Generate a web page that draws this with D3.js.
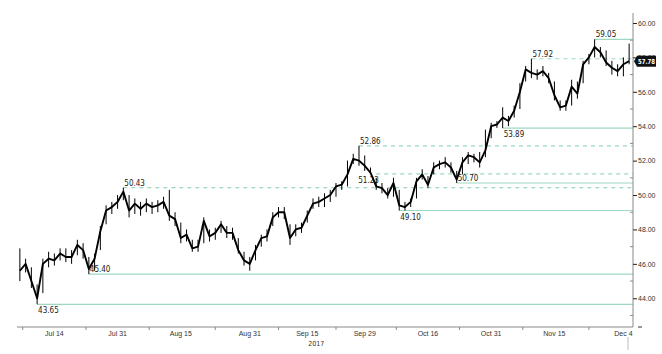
<!DOCTYPE html>
<html>
<head>
<meta charset="utf-8">
<style>
  body { margin: 0; background: #fff; }
  svg { display: block; font-family: "DejaVu Sans Condensed", "Liberation Sans Narrow", "Liberation Sans", sans-serif; }
  .price { fill: none; stroke: #000; stroke-width: 1.9; stroke-linejoin: round; }
  .range { stroke: #000; stroke-width: 1; }
  .level { stroke: #9ed8c1; stroke-width: 1.2; }
  .level.dash { stroke-dasharray: 4,4; }
  .lvl-text { font-size: 8px; fill: #222; }
  .frame { stroke: #8a8a8a; stroke-width: 1; }
</style>
</head>
<body>
<svg id="chart" width="662" height="354"></svg>
<script src="https://cdn.jsdelivr.net/npm/d3@7"></script>
<script>
// trading days Jul 6 - Dec 5 2017 (US holidays skipped)
const startDay = "2017-07-06"
const endDay = "2017-12-06"
const holidays = ["2017-09-04", "2017-11-23"]

// daily close / high / low
const closes = [45.6,46.0,45.0,44.0,46.0,46.3,46.2,46.6,46.4,46.4,47.1,46.8,45.7,46.3,47.9,49.1,49.3,49.6,50.2,49.1,
  49.5,49.2,49.5,49.3,49.4,49.6,48.8,48.6,47.5,47.7,46.9,47.0,48.5,47.6,47.8,48.3,47.8,47.8,46.8,46.2,
  46.0,46.8,47.5,47.6,48.7,49.0,49.0,47.5,48.0,48.1,48.8,49.5,49.6,49.8,50.0,50.5,50.6,51.2,52.1,52.0,
  51.7,51.3,50.5,50.4,50.0,50.7,49.4,49.3,49.6,50.8,51.2,50.6,51.6,51.8,51.9,51.6,50.9,51.9,52.3,52.2,
  51.9,52.6,54.0,54.1,54.5,54.3,54.9,56.0,57.3,57.1,57.0,57.2,56.8,55.8,55.1,55.2,56.3,55.9,57.6,58.0,
  58.6,58.3,57.7,57.4,57.2,57.6,57.78]
const highs = [46.9,46.3,45.8,44.8,46.3,46.7,46.6,46.9,46.9,46.8,47.4,47.2,46.4,46.6,48.2,49.4,49.6,50.0,50.43,50.0,
  49.8,49.6,49.8,49.6,49.7,49.9,50.3,49.0,48.4,48.0,47.4,47.4,48.7,48.0,48.1,48.5,48.2,48.1,47.5,46.7,
  46.4,47.1,47.7,48.0,49.0,49.3,49.3,48.3,48.3,48.4,49.1,49.8,49.9,50.1,50.3,50.7,50.8,52.0,52.4,52.86,
  52.3,51.6,51.0,50.7,50.4,51.0,50.3,49.6,49.8,51.0,51.5,51.1,51.9,52.0,52.2,51.9,51.4,52.2,52.5,52.4,
  52.5,53.8,54.2,54.3,55.1,54.6,55.2,56.5,57.5,57.92,57.3,57.5,57.1,56.6,55.5,55.5,56.7,56.6,57.8,58.2,
  59.05,58.6,58.4,57.8,57.6,58.0,58.8]
const lows = [45.0,45.5,44.6,43.65,44.3,45.8,45.9,46.2,46.1,46.0,46.5,46.3,45.4,45.6,46.8,48.3,48.9,49.2,49.7,48.7,
  48.9,48.8,49.0,48.9,49.0,49.2,48.5,48.2,47.2,47.3,46.7,46.7,47.2,47.3,47.4,47.8,47.5,47.4,46.6,45.9,
  45.6,46.2,47.0,47.3,48.2,48.7,48.6,47.1,47.6,47.8,48.4,49.2,49.3,49.3,49.6,49.9,50.3,50.5,51.8,51.7,
  51.4,51.23,50.3,50.1,49.8,49.9,49.1,49.1,49.3,49.8,50.9,50.4,51.2,51.5,51.6,51.3,50.7,51.2,51.8,51.9,
  51.6,52.2,53.3,53.9,53.89,54.0,54.5,55.0,56.6,56.8,56.7,56.9,56.5,55.5,54.9,54.9,55.2,55.6,56.5,57.6,
  58.0,58.0,57.5,57.0,56.9,56.9,57.6]

// marked highs / lows
const solidLevels = [43.65, 45.40, 49.10, 50.70, 53.89, 59.05]
const solidDates = ["2017-07-11", "2017-07-24", "2017-10-09", "2017-10-23", "2017-11-02", "2017-11-27"]
const dashLevels = [50.43, 52.86, 51.23, 57.92]
const dashDates = ["2017-08-01", "2017-09-28", "2017-10-03", "2017-11-09"]
const lastValue = 57.78

const tickDates = ["2017-07-14", "2017-07-31", "2017-08-15", "2017-08-31", "2017-09-15",
  "2017-09-29", "2017-10-16", "2017-10-31", "2017-11-15", "2017-12-04"]
const tickLabels = ["Jul 14", "Jul 31", "Aug 15", "Aug 31", "Sep 15", "Sep 29", "Oct 16", "Oct 31", "Nov 15", "Dec 4"]
const yTicks = [44, 46, 48, 50, 52, 54, 56, 58, 60]

const fmt = d3.timeFormat("%Y-%m-%d")
const parse = d3.timeParse("%Y-%m-%d")
let days = d3.timeDay.range(parse(startDay), parse(endDay))
  .filter(d => d.getDay() % 6 !== 0 && !holidays.includes(fmt(d)))
  .map(fmt)

let data = days.map((d, i) => ({ date: d, close: closes[i], high: highs[i], low: lows[i] }))
  .filter(d => d.close !== undefined)

let svg = d3.select("#chart")
let axisX = 633, axisTop = 13, axisBottom = 327

let x = d3.scaleBand().domain(days).range([17, 632])
let xc = d => x(d) + x.bandwidth() / 2
let y = d3.scaleLinear().domain([42.33, 60.58]).range([axisBottom, axisTop])

// reference levels
let levels = solidLevels.map((v, i) => ({ v: v, date: solidDates[i], dash: false }))
  .concat(dashLevels.map((v, i) => ({ v: v, date: dashDates[i], dash: true })))
let below = [43.65, 51.23, 49.10, 53.89]

svg.append("g").selectAll("line").data(levels).join("line")
  .attr("class", d => d.dash ? "level dash" : "level")
  .attr("x1", d => xc(d.date)).attr("x2", axisX)
  .attr("y1", d => y(d.v)).attr("y2", d => y(d.v))

svg.append("g").selectAll("text").data(levels).join("text")
  .attr("class", "lvl-text")
  .attr("x", d => xc(d.date) + (d.v === 51.23 ? -18 : 1))
  .attr("y", d => below.includes(d.v) ? y(d.v) + 9 : y(d.v) - 2)
  .text(d => d3.format(".2f")(d.v))

// price: high-low bars + close line
svg.append("g").selectAll("line").data(data).join("line")
  .attr("class", "range")
  .attr("x1", d => xc(d.date)).attr("x2", d => xc(d.date))
  .attr("y1", d => y(d.high)).attr("y2", d => y(d.low))

let line = d3.line().x(d => xc(d.date)).y(d => y(d.close))
svg.append("path").datum(data).attr("class", "price").attr("d", line)

// frame
svg.append("line").attr("class", "frame").attr("x1", 17).attr("x2", axisX).attr("y1", axisBottom).attr("y2", axisBottom)
svg.append("line").attr("class", "frame").attr("x1", axisX).attr("x2", axisX).attr("y1", axisTop).attr("y2", axisBottom)

// y axis on right
let yAxis = svg.append("g").attr("transform", "translate(" + axisX + ",0)")
  .call(d3.axisRight(y).tickValues(yTicks).tickFormat(d3.format(".2f")).tickSize(4).tickPadding(1))
yAxis.select(".domain").remove()
yAxis.selectAll("line").attr("stroke", "#222")
yAxis.selectAll("text").attr("font-size", 7).attr("fill", "#333").attr("font-family", null)

// minor y ticks
svg.append("g").selectAll("line").data(d3.range(43, 61, 2)).join("line")
  .attr("x1", axisX - 3).attr("x2", axisX).attr("y1", d => y(d)).attr("y2", d => y(d))
  .attr("stroke", "#8a8a8a")

// x axis labels
let xAxis = svg.append("g").attr("transform", "translate(0," + axisBottom + ")")
  .call(d3.axisBottom(x).tickValues(tickDates).tickFormat((d, i) => tickLabels[i]).tickSize(0).tickPadding(4))
xAxis.select(".domain").remove()
xAxis.selectAll("text").attr("font-size", 7).attr("fill", "#333").attr("font-family", null)

// small ticks between labels
let mids = tickDates.slice(1).map((d, i) => (xc(tickDates[i]) + xc(d)) / 2)
mids.unshift(xc(tickDates[0]) - (mids[0] - xc(tickDates[0])))
svg.append("g").selectAll("line").data(mids).join("line")
  .attr("x1", d => d).attr("x2", d => d).attr("y1", axisBottom).attr("y2", axisBottom + 3)
  .attr("stroke", "#8a8a8a")

svg.append("text").attr("x", xc("2017-09-15") + 9).attr("y", 346)
  .attr("text-anchor", "middle").attr("font-size", 7).attr("fill", "#333").text("2017")
svg.append("line").attr("x1", 638).attr("x2", 642).attr("y1", axisBottom).attr("y2", axisBottom).attr("stroke", "#333")
svg.append("line").attr("x1", 628).attr("x2", 628).attr("y1", 337).attr("y2", 350).attr("stroke", "#bbb")

// last value tag (drawn over the 58.00 label, as in the original)
let tag = svg.append("g").attr("transform", "translate(" + axisX + "," + y(lastValue) + ")")
tag.append("path").attr("d", "M1,0 L4,-5.5 L23,-5.5 L23,5.5 L4,5.5 Z").attr("fill", "#111")
tag.append("text").attr("x", 5).attr("y", 2.5).attr("font-size", 7).attr("font-weight", "bold")
  .attr("textLength", 17).attr("lengthAdjust", "spacingAndGlyphs")
  .attr("fill", "#fff").text(d3.format(".2f")(lastValue))
</script>
</body>
</html>
